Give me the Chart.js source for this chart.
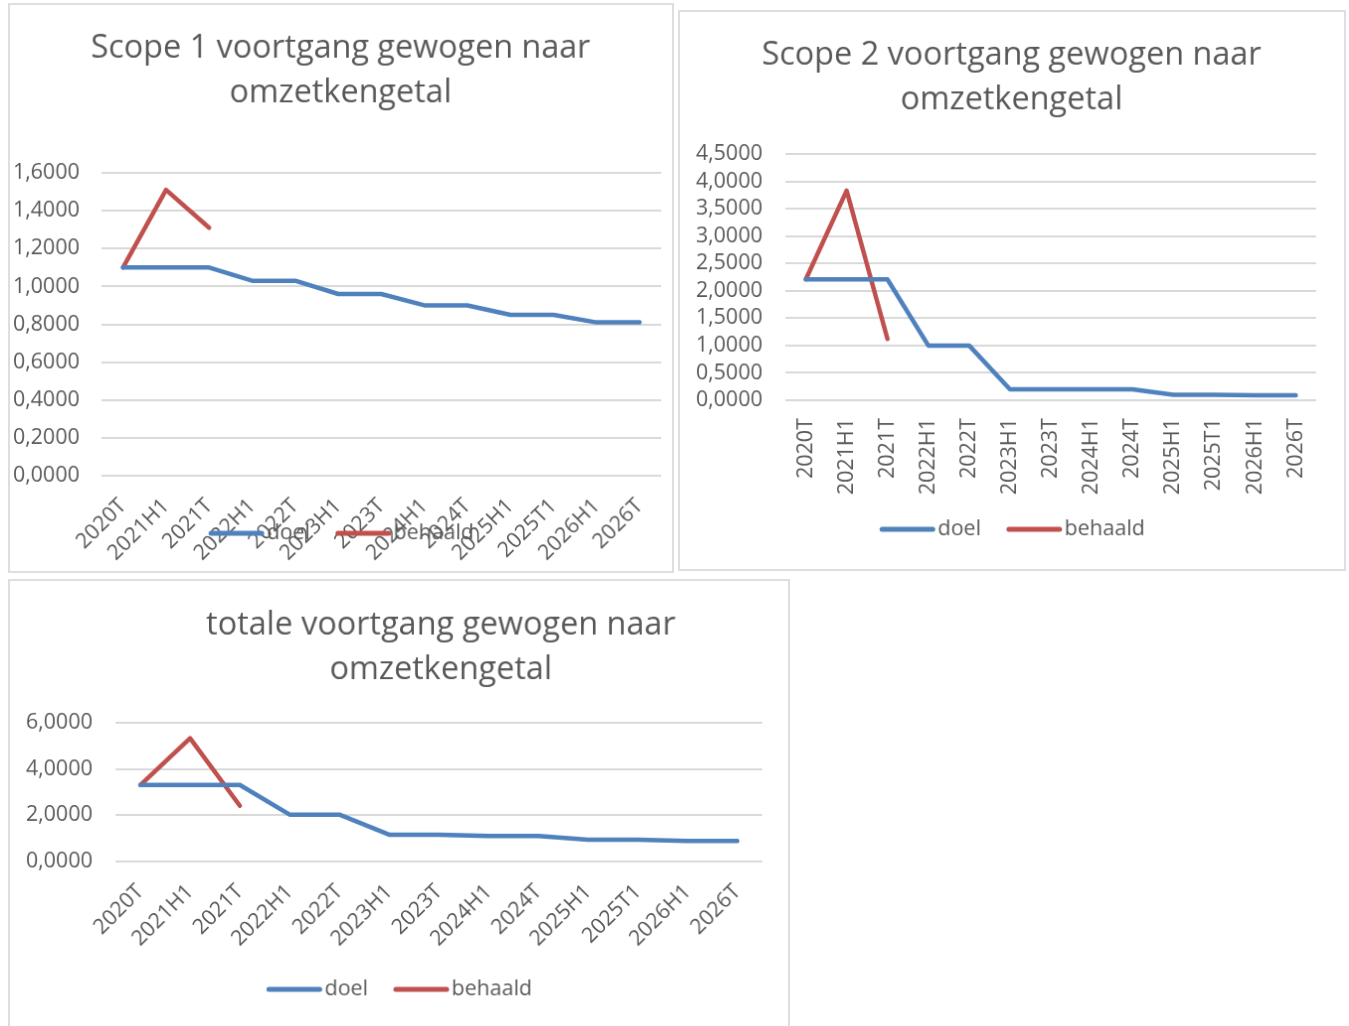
<!DOCTYPE html>
<html>
<head>
<meta charset="utf-8">
<script src="https://cdn.jsdelivr.net/npm/chart.js@4.4.0/dist/chart.umd.min.js"></script>
<style>
  body { margin: 0; background: #fff; width: 1349px; height: 1026px; overflow: hidden; position: relative; }
  canvas { position: absolute; border: 2px solid #dedede; }
</style>
</head>
<body>
<canvas id="scope1Chart" width="666" height="570" style="left:8px;top:3px"></canvas>
<canvas id="scope2Chart" width="668" height="561" style="left:678px;top:10px"></canvas>
<canvas id="totaalChart" width="782" height="450" style="left:8px;top:579px"></canvas>
<script>
// ---- data ----
const categories = ["2020T", "2021H1", "2021T", "2022H1", "2022T", "2023H1", "2023T",
  "2024H1", "2024T", "2025H1", "2025T1", "2026H1", "2026T"];

const scope1Doel = [1.10, 1.10, 1.10, 1.03, 1.03, 0.96, 0.96, 0.90, 0.90, 0.85, 0.85, 0.81, 0.81];
const scope1Behaald = [1.10, 1.51, 1.31];

const scope2Doel = [2.21, 2.21, 2.21, 1.00, 1.00, 0.20, 0.20, 0.20, 0.20, 0.10, 0.10, 0.09, 0.09];
const scope2Behaald = [2.21, 3.83, 1.12];

const totaalDoel = [3.31, 3.31, 3.31, 2.03, 2.03, 1.16, 1.16, 1.10, 1.10, 0.94, 0.94, 0.89, 0.89];
const totaalBehaald = [3.31, 5.33, 2.41];

const seriesNames = ["doel", "behaald"];
const seriesColors = ["#4f81bd", "#c0504d"];

const textColor = "#595959";
const fontFamily = "'Open Sans', sans-serif";

// Excel style number format: 1,6000
const fmt = (v) => Number(v).toFixed(4).replace(".", ",");

// title drawn by hand: the original centres it at different spots per chart
const chartTitle = {
  id: "chartTitle",
  afterDraw(chart, args, opts) {
    const ctx = chart.ctx;
    ctx.save();
    ctx.font = `32.5px ${fontFamily}`;
    ctx.fillStyle = textColor;
    ctx.textAlign = "center";
    ctx.textBaseline = "middle";
    opts.lines.forEach((line, i) => ctx.fillText(line, opts.x, opts.y + i * 45));
    ctx.restore();
  },
};

// legend drawn by hand so it can sit on top of the axis labels like in the original
const lineLegend = {
  id: "lineLegend",
  afterDraw(chart, args, opts) {
    const ctx = chart.ctx;
    const swatch = 57, gap = 2, between = 25;
    ctx.save();
    ctx.font = `21.5px ${fontFamily}`;
    const widths = seriesNames.map((n) => ctx.measureText(n).width);
    let total = 0;
    widths.forEach((w, i) => { total += swatch + gap + w + (i ? between : 0); });
    let x = chart.width / 2 - total / 2;
    const y = opts.y;
    seriesNames.forEach((name, i) => {
      ctx.strokeStyle = seriesColors[i];
      ctx.lineWidth = 5;
      ctx.lineCap = "round";
      ctx.beginPath();
      ctx.moveTo(x + 3, y);
      ctx.lineTo(x + swatch - 3, y);
      ctx.stroke();
      ctx.fillStyle = textColor;
      ctx.textBaseline = "middle";
      ctx.fillText(name, x + swatch + gap, y);
      x += swatch + gap + widths[i] + between;
    });
    ctx.restore();
  },
};

function makeChart(id, title, doel, behaald, cfg) {
  const ctx = document.getElementById(id).getContext("2d");
  return new Chart(ctx, {
    type: "line",
    data: {
      labels: categories,
      datasets: [
        { label: seriesNames[0], data: doel, borderColor: seriesColors[0] },
        { label: seriesNames[1], data: behaald, borderColor: seriesColors[1] },
      ],
    },
    options: {
      responsive: false,
      animation: false,
      layout: { padding: { left: 0, right: cfg.right, top: cfg.top, bottom: 0 } },
      elements: {
        line: { borderWidth: 4.5, tension: 0, borderCapStyle: "round", borderJoinStyle: "round", fill: false },
        point: { radius: 0, hoverRadius: 0 },
      },
      plugins: {
        legend: { display: false },
        title: { display: false },
        tooltip: { enabled: false },
        chartTitle: { lines: title, x: cfg.titleX, y: cfg.titleY },
        lineLegend: { y: cfg.legendY },
      },
      scales: {
        x: {
          offset: true,
          grid: { display: false, drawTicks: false },
          border: { display: false },
          ticks: {
            autoSkip: false,
            minRotation: cfg.rotation,
            maxRotation: cfg.rotation,
            padding: cfg.xPad,
            color: textColor,
            font: { family: fontFamily, size: 21.5 },
          },
          afterFit: (scale) => {
            scale.height = cfg.xHeight;
            scale.paddingLeft = 0;
            scale.paddingRight = 0;
          },
        },
        y: {
          min: 0,
          max: cfg.max,
          grid: { color: "#d9d9d9", lineWidth: 2, drawTicks: false },
          border: { display: false },
          ticks: {
            autoSkip: false,
            stepSize: cfg.step,
            padding: cfg.yPad,
            color: textColor,
            font: { family: fontFamily, size: 21.5 },
            callback: (v) => fmt(v),
          },
          afterFit: (scale) => {
            scale.width = cfg.yWidth;
            scale.paddingTop = 0;
            scale.paddingBottom = 0;
          },
        },
      },
    },
    plugins: [chartTitle, lineLegend],
  });
}

const charts = [
  makeChart("scope1Chart", ["Scope 1 voortgang gewogen naar", "omzetkengetal"], scope1Doel, scope1Behaald,
    { max: 1.6, step: 0.2, rotation: 45, top: 169, right: 11, xHeight: 96, yWidth: 92, yPad: 22, xPad: 18,
      titleX: 332.5, titleY: 44, legendY: 532 }),
  makeChart("scope2Chart", ["Scope 2 voortgang gewogen naar", "omzetkengetal"], scope2Doel, scope2Behaald,
    { max: 4.5, step: 0.5, rotation: 90, top: 143, right: 28, xHeight: 170, yWidth: 106, yPad: 23, xPad: 18,
      titleX: 333.5, titleY: 44, legendY: 521 }),
  makeChart("totaalChart", ["totale voortgang gewogen naar", "omzetkengetal"], totaalDoel, totaalBehaald,
    { max: 6, step: 2, rotation: 45, top: 143, right: 26, xHeight: 167, yWidth: 106, yPad: 23, xPad: 18,
      titleX: 433, titleY: 45, legendY: 412 }),
];
</script>
</body>
</html>
